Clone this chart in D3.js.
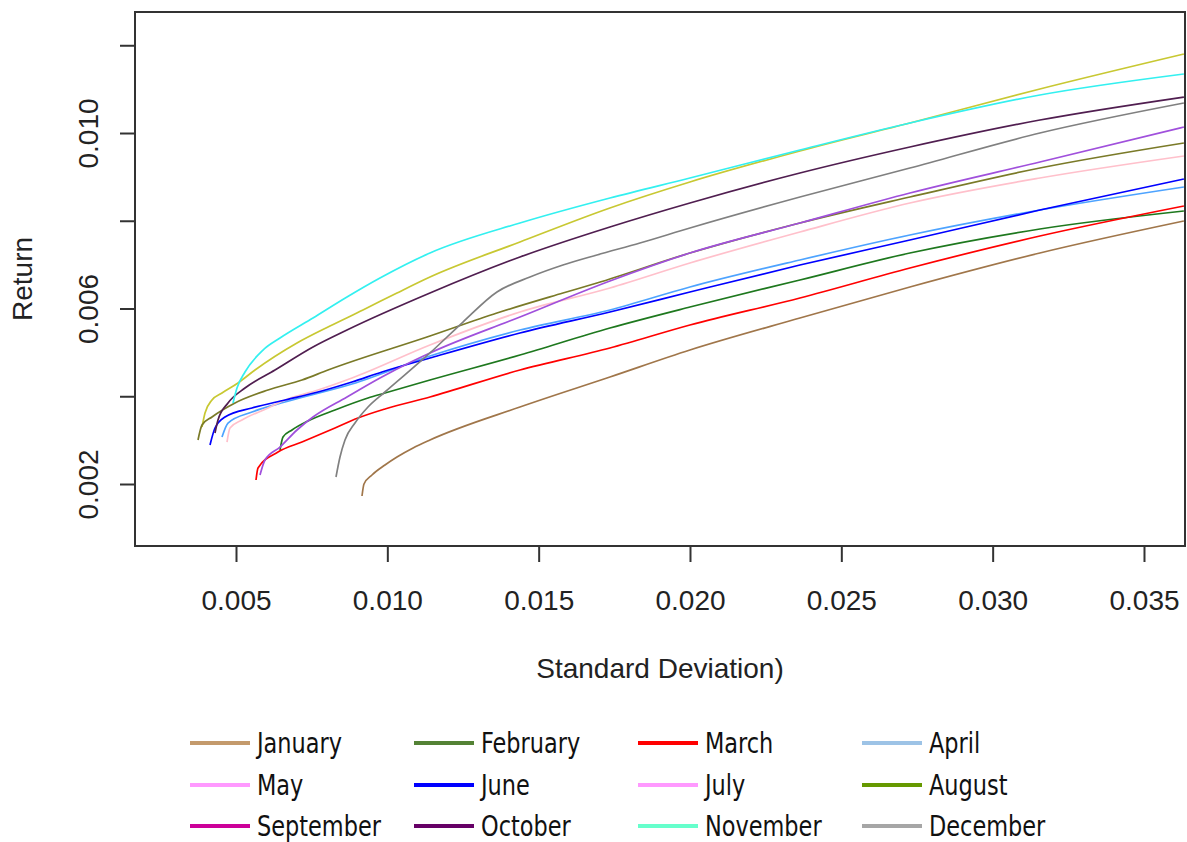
<!DOCTYPE html>
<html>
<head>
<meta charset="utf-8">
<script src="https://cdn.jsdelivr.net/npm/d3@7"></script>
<style>
  html, body { margin: 0; padding: 0; background: #ffffff; }
  svg { display: block; }
</style>
</head>
<body>
<svg id="chart" width="1187" height="842"></svg>
<script>
// Efficient frontiers by month: standard deviation (x) vs. expected return (y)
const months = ["January", "February", "March", "April", "May", "June",
                "July", "August", "September", "October", "November", "December"];

const janSD  = [0.009163, 0.009229, 0.009493, 0.009922, 0.010319, 0.010851, 0.011409, 0.014382, 0.017355, 0.019998, 0.023632, 0.027266, 0.031561, 0.036318];
const janRet = [0.001727, 0.002000, 0.002205, 0.002433, 0.002615, 0.002821, 0.003003, 0.003755, 0.004439, 0.005054, 0.005783, 0.006490, 0.007265, 0.007994];

const febSD  = [0.006454, 0.006553, 0.006850, 0.007379, 0.008271, 0.009361, 0.009922, 0.011409, 0.014382, 0.017355, 0.019998, 0.023632, 0.027266, 0.031561, 0.036318];
const febRet = [0.002775, 0.003071, 0.003231, 0.003436, 0.003687, 0.003960, 0.004074, 0.004370, 0.004940, 0.005556, 0.006034, 0.006650, 0.007265, 0.007812, 0.008222];

const marSD  = [0.005661, 0.005727, 0.006388, 0.007180, 0.008271, 0.009030, 0.009922, 0.011409, 0.014382, 0.017355, 0.019998, 0.023632, 0.027266, 0.031561, 0.036318];
const marRet = [0.002091, 0.002365, 0.002729, 0.002957, 0.003276, 0.003504, 0.003710, 0.003983, 0.004598, 0.005100, 0.005624, 0.006239, 0.006923, 0.007652, 0.008336];

const aprSD  = [0.004537, 0.004736, 0.005529, 0.006619, 0.008832, 0.011409, 0.014382, 0.017355, 0.019998, 0.023632, 0.027266, 0.031561, 0.036318];
const aprRet = [0.003071, 0.003390, 0.003641, 0.003869, 0.004279, 0.004917, 0.005510, 0.005966, 0.006490, 0.007106, 0.007675, 0.008245, 0.008769];

const maySD  = [0.004703, 0.004802, 0.005198, 0.006057, 0.006619, 0.007709, 0.008832, 0.011409, 0.014382, 0.017355, 0.019998, 0.023632, 0.027266, 0.031561, 0.036318];
const mayRet = [0.002957, 0.003276, 0.003459, 0.003732, 0.003915, 0.004142, 0.004416, 0.005168, 0.005920, 0.006467, 0.007037, 0.007744, 0.008405, 0.008974, 0.009476];

const junSD  = [0.004141, 0.004306, 0.004637, 0.005529, 0.006619, 0.007709, 0.008832, 0.009823, 0.011409, 0.014382, 0.017355, 0.019998, 0.023632, 0.027266, 0.031561, 0.036318];
const junRet = [0.002889, 0.003276, 0.003527, 0.003732, 0.003915, 0.004097, 0.004325, 0.004553, 0.004872, 0.005442, 0.005920, 0.006376, 0.006991, 0.007561, 0.008245, 0.008952];

const julSD  = [0.003877, 0.003976, 0.004207, 0.004537, 0.005066, 0.005628, 0.007015, 0.008105, 0.009196, 0.010319, 0.011409, 0.014382, 0.017355, 0.019998, 0.023632, 0.027266, 0.031561, 0.036318];
const julRet = [0.003299, 0.003618, 0.003915, 0.004075, 0.004302, 0.004598, 0.005214, 0.005601, 0.005966, 0.006354, 0.006718, 0.007516, 0.008291, 0.008883, 0.009590, 0.010228, 0.011003, 0.011800];

const augSD  = [0.003745, 0.003877, 0.004207, 0.004967, 0.006057, 0.007180, 0.008039, 0.011409, 0.013622, 0.015803, 0.016926, 0.019998, 0.023632, 0.027266, 0.031561, 0.036318];
const augRet = [0.003003, 0.003345, 0.003527, 0.003846, 0.004142, 0.004370, 0.004598, 0.005373, 0.005897, 0.006353, 0.006581, 0.007265, 0.007949, 0.008541, 0.009202, 0.009772];

const sepSD  = [0.005793, 0.005958, 0.006454, 0.007015, 0.007544, 0.008667, 0.009757, 0.010847, 0.011409, 0.014382, 0.017355, 0.019998, 0.023632, 0.027266, 0.031561, 0.036318];
const sepRet = [0.002205, 0.002547, 0.002843, 0.003231, 0.003527, 0.003983, 0.004416, 0.004803, 0.004986, 0.005806, 0.006627, 0.007265, 0.007949, 0.008633, 0.009339, 0.010137];

const octSD  = [0.004306, 0.004405, 0.004736, 0.005297, 0.006288, 0.007544, 0.008667, 0.011409, 0.014382, 0.017355, 0.019998, 0.023632, 0.027266, 0.031561, 0.036318];
const octRet = [0.003162, 0.003459, 0.003846, 0.004188, 0.004598, 0.005123, 0.005510, 0.006353, 0.007174, 0.007858, 0.008405, 0.009088, 0.009681, 0.010296, 0.010820];

const novSD  = [0.004901, 0.005033, 0.005297, 0.005892, 0.006454, 0.007544, 0.008667, 0.009757, 0.011409, 0.014382, 0.017355, 0.019998, 0.023632, 0.027266, 0.031561, 0.036318];
const novRet = [0.003846, 0.004188, 0.004553, 0.005054, 0.005328, 0.005784, 0.006262, 0.006695, 0.007265, 0.007949, 0.008519, 0.008974, 0.009613, 0.010228, 0.010866, 0.011345];

const decSD  = [0.008304, 0.008436, 0.008601, 0.008931, 0.009361, 0.009922, 0.011409, 0.012499, 0.013622, 0.014713, 0.015803, 0.016926, 0.018347, 0.019998, 0.023632, 0.027266, 0.031561, 0.036318];
const decRet = [0.002160, 0.002615, 0.003003, 0.003390, 0.003755, 0.004097, 0.004986, 0.005692, 0.006376, 0.006718, 0.006991, 0.007220, 0.007493, 0.007835, 0.008541, 0.009202, 0.010000, 0.010684];

// Line colours in the plot and swatch colours in the legend below it
const lineColors   = ["#A0764A", "#1E781E", "#FF0000", "#4DA3FF", "#FFC0CB", "#0000FF",
                      "#C8C832", "#7A7A28", "#A050DC", "#501E50", "#33F0F0", "#808080"];
const legendColors = ["#C49A6C", "#548235", "#FF0000", "#9DC3E6", "#FF99FF", "#0000FF",
                      "#FF99FF", "#669900", "#CC0099", "#660066", "#66FFCC", "#A6A6A6"];

const xTicks = [0.005, 0.010, 0.015, 0.020, 0.025, 0.030, 0.035];
const yTicks = [0.002, 0.004, 0.006, 0.008, 0.010, 0.012];
const yLabelled = [0.002, 0.006, 0.010];

const sdSeries  = [janSD, febSD, marSD, aprSD, maySD, junSD, julSD, augSD, sepSD, octSD, novSD, decSD];
const retSeries = [janRet, febRet, marRet, aprRet, mayRet, junRet, julRet, augRet, sepRet, octRet, novRet, decRet];

const frontiers = months.map((m, i) => ({
  month: m,
  color: lineColors[i],
  points: sdSeries[i].map((s, j) => ({ sd: s, ret: retSeries[i][j] }))
}));

// Layout
const plot = { left: 135, right: 1185, top: 12, bottom: 546 };
const svg = d3.select("#chart");

const x = d3.scaleLinear().domain([0.001663, 0.036355]).range([plot.left, plot.right]);
const y = d3.scaleLinear().domain([0.000587, 0.012758]).range([plot.bottom, plot.top]);

const axisFont = "'Liberation Sans', Arial, sans-serif";
const axisColor = "#333333";

svg.append("defs").append("clipPath").attr("id", "plot-clip")
  .append("rect")
  .attr("x", plot.left).attr("y", plot.top)
  .attr("width", plot.right - plot.left).attr("height", plot.bottom - plot.top);

// Frontier curves
const line = d3.line()
  .x(d => x(d.sd))
  .y(d => y(d.ret))
  .curve(d3.curveMonotoneX);

svg.append("g").attr("clip-path", "url(#plot-clip)")
  .selectAll("path")
  .data(frontiers)
  .join("path")
  .attr("d", d => line(d.points))
  .attr("fill", "none")
  .attr("stroke", d => d.color)
  .attr("stroke-width", 1.7)
  .attr("stroke-linejoin", "round");

// Plot box
svg.append("rect")
  .attr("x", plot.left).attr("y", plot.top)
  .attr("width", plot.right - plot.left).attr("height", plot.bottom - plot.top)
  .attr("fill", "none").attr("stroke", axisColor).attr("stroke-width", 2);

// X axis
const xAxis = svg.append("g")
  .attr("transform", `translate(0,${plot.bottom})`)
  .call(d3.axisBottom(x).tickValues(xTicks).tickSize(16).tickPadding(28).tickFormat(d3.format(".3f")));
xAxis.select(".domain").remove();
xAxis.selectAll(".tick line").attr("stroke", axisColor).attr("stroke-width", 2);
xAxis.selectAll(".tick text")
  .attr("fill", "#222").style("font-family", axisFont).style("font-size", "28px");

// Y axis: all ticks, labels only where they fit
const yAxis = svg.append("g")
  .attr("transform", `translate(${plot.left},0)`)
  .call(d3.axisLeft(y).tickValues(yTicks).tickSize(15)
    .tickFormat(d => yLabelled.some(v => Math.abs(v - d) < 1e-9) ? d3.format(".3f")(d) : ""));
yAxis.select(".domain").remove();
yAxis.selectAll(".tick line").attr("stroke", axisColor).attr("stroke-width", 2);
yAxis.selectAll(".tick text")
  .attr("x", null).attr("dy", null)
  .attr("text-anchor", "middle")
  .attr("transform", "translate(-37,0) rotate(-90)")
  .attr("fill", "#222").style("font-family", axisFont).style("font-size", "28px");

// Axis titles
svg.append("text")
  .attr("x", (plot.left + plot.right) / 2).attr("y", 678)
  .attr("text-anchor", "middle")
  .attr("fill", "#222").style("font-family", axisFont).style("font-size", "28px")
  .text("Standard Deviation)");

svg.append("text")
  .attr("transform", `translate(32,${(plot.top + plot.bottom) / 2}) rotate(-90)`)
  .attr("text-anchor", "middle")
  .attr("fill", "#222").style("font-family", axisFont).style("font-size", "28px")
  .text("Return");

// Legend: 4 columns x 3 rows
const legendCols = [190, 414, 638, 862];
const legendRows = [743, 785, 826];
const legend = svg.append("g")
  .selectAll("g")
  .data(months)
  .join("g")
  .attr("transform", (d, i) => `translate(${legendCols[i % 4]},${legendRows[Math.floor(i / 4)]})`);

legend.append("line")
  .attr("x1", 0).attr("x2", 60).attr("y1", 0).attr("y2", 0)
  .attr("stroke", (d, i) => legendColors[i]).attr("stroke-width", 4);

legend.append("text")
  .attr("transform", "translate(67,9.5) scale(0.89,1)")
  .attr("fill", "#111")
  .style("font-family", "'Liberation Sans Narrow', 'DejaVu Sans Condensed', 'Arial Narrow', sans-serif")
  .style("font-size", "28px")
  .text(d => d);
</script>
</body>
</html>
